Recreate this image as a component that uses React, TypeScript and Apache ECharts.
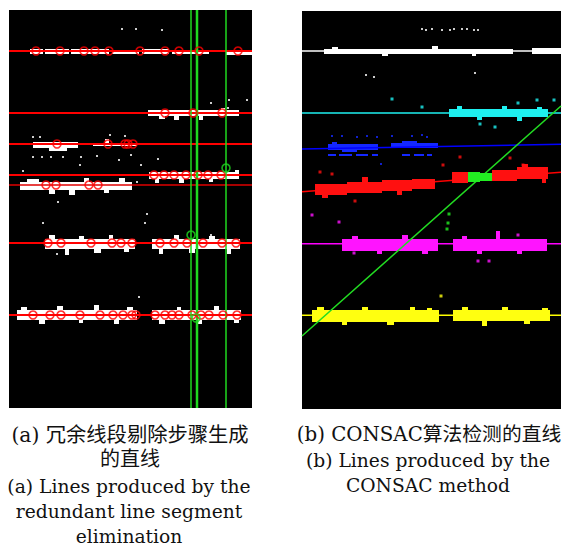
import React, { useEffect, useRef } from "react";
import * as echarts from "echarts";

// ---------- Panel (a): redundant line segment elimination (local pixel units) ----------
const aRedLines = [41, 103, 134, 165, 233, 305];
const aThinRedLine = [175];
const aGreenVLines = [182, 217];
const aGreenVThick = [188];
const aRedCircles: number[][] = [
  [27, 41], [51, 41], [75, 41], [86, 41], [100, 41], [131, 41], [156, 41], [170, 41], [190, 41], [229, 41],
  [156, 103], [184, 103], [213, 103],
  [48, 134], [99, 134], [116, 134], [119, 134], [124, 134],
  [145, 165], [155, 165], [165, 165], [177, 165], [189, 165], [199, 165], [212, 165],
  [37, 175], [47, 175], [80, 175], [89, 175],
  [39, 233], [52, 233], [82, 233], [103, 233], [112, 233], [123, 233], [151, 233], [165, 233], [178, 233], [194, 233], [213, 233], [227, 233],
  [24, 305], [41, 305], [52, 305], [71, 305], [91, 305], [104, 305], [114, 305], [123, 305], [127, 305], [146, 305], [156, 305], [163, 305], [170, 305], [183, 305], [192, 305], [200, 305], [214, 305], [228, 305],
];
const aGreenCircles: number[][] = [[217, 158], [182, 225], [187, 308]];
// white point clusters [x0, x1, yTop, yBottom]
const aWhiteBlobs: number[][] = [
  [21, 34, 39, 44], [36, 60, 39, 44], [62, 100, 39, 44], [103, 130, 40, 44], [133, 160, 39, 44], [163, 200, 40, 44],
  [217, 243, 41, 45],
  [139, 230, 100, 106], [150, 156, 106, 109], [165, 170, 106, 110], [190, 194, 106, 110], [212, 216, 98, 100],
  [24, 69, 132, 138], [40, 58, 138, 141], [84, 128, 133, 136], [96, 100, 129, 133],
  [140, 230, 162, 169], [146, 150, 169, 173], [170, 175, 169, 173], [200, 204, 169, 172], [226, 230, 160, 162],
  [11, 123, 172, 180], [18, 30, 169, 172], [40, 46, 180, 184], [60, 66, 180, 185], [75, 80, 168, 172], [95, 100, 180, 183], [110, 116, 168, 172],
  [36, 126, 229, 239], [40, 46, 225, 229], [56, 60, 239, 245], [70, 75, 226, 229], [85, 92, 239, 243], [100, 104, 225, 229], [115, 120, 239, 242],
  [143, 231, 229, 239], [150, 154, 239, 244], [165, 170, 225, 229], [180, 186, 239, 243], [200, 206, 226, 229], [218, 222, 239, 244],
  [8, 128, 300, 310], [12, 18, 297, 300], [30, 36, 310, 314], [48, 54, 296, 300], [70, 74, 310, 313], [85, 90, 295, 300], [105, 110, 310, 314], [118, 124, 297, 300],
  [143, 232, 300, 310], [150, 156, 310, 314], [168, 172, 297, 300], [188, 193, 310, 314], [205, 210, 296, 300], [225, 230, 310, 313],
];
const aWhiteDots: number[][] = [
  [113, 19], [127, 19], [153, 20], [202, 93], [220, 90], [238, 90], [219, 98],
  [24, 127], [31, 127], [101, 125], [116, 126], [24, 147], [33, 147], [42, 147], [54, 147], [72, 147],
  [88, 146], [110, 150], [122, 145], [149, 149], [71, 155], [132, 155], [14, 161], [128, 172],
  [49, 192], [138, 204], [136, 213], [34, 213], [202, 225], [130, 287], [48, 244],
];

// ---------- Panel (b): CONSAC (local pixel units) ----------
const bWhiteLine = [40, 40];
const bCyanLine = [102, 102];
const bBlueLine = [138, 133.3];
const bRedLine = [180.7, 161.3];
const bGreenLine = [325, 95];
const bMagentaLine = [232.7, 232.7];
const bYellowLine = [304.3, 304.3];
const bWhiteBlobs: number[][] = [
  [22, 211, 38, 43], [30, 36, 36, 38], [80, 86, 43, 45], [130, 136, 35, 38], [170, 174, 43, 45], [230, 259, 37, 43],
];
const bWhiteDots: number[][] = [
  [120, 18], [124, 19], [130, 18], [140, 19], [148, 19], [152, 18], [160, 18], [165, 18], [172, 19], [176, 19],
  [64, 64], [72, 66], [173, 62],
];
const bCyanBlobs: number[][] = [
  [147, 246, 98, 106], [155, 160, 95, 98], [175, 180, 106, 109], [200, 205, 95, 98], [215, 220, 106, 110], [235, 240, 96, 98],
];
const bCyanDots: number[][] = [[90, 88], [120, 96], [178, 113], [193, 116], [216, 92], [235, 89], [252, 89]];
const bBlueBlobs: number[][] = [
  [26, 76, 133, 139], [40, 55, 139, 141], [30, 35, 131, 133], [89, 136, 132, 137], [100, 115, 130, 132],
  [26, 34, 143, 145], [37, 50, 143, 145], [54, 66, 143, 145], [70, 76, 143, 145], [100, 108, 143, 145], [112, 122, 143, 145], [125, 130, 143, 145],
];
const bBlueDots: number[][] = [[30, 125], [40, 125], [55, 126], [65, 125], [75, 126], [90, 125], [110, 125], [120, 124], [125, 126], [79, 153]];
const bRedBlobs: number[][] = [
  [13, 45, 173, 184], [45, 80, 171, 182], [80, 110, 169, 180], [110, 133, 168, 178], [20, 26, 184, 187], [60, 66, 166, 171], [95, 100, 180, 184],
  [150, 166, 161, 172], [190, 215, 159, 170], [215, 246, 156, 168], [220, 226, 153, 156], [240, 244, 168, 172],
];
const bRedDots: number[][] = [[141, 154], [158, 146], [208, 147], [221, 154], [18, 161], [30, 163], [53, 190]];
const bGreenBlobs: number[][] = [[166, 178, 161, 171], [178, 190, 162, 170]];
const bGreenDots: number[][] = [[147, 203], [146, 212], [145, 218]];
const bMagentaBlobs: number[][] = [
  [40, 136, 228, 240], [50, 56, 225, 228], [75, 80, 240, 243], [100, 106, 224, 228], [120, 126, 240, 243],
  [151, 245, 228, 240], [160, 165, 225, 228], [175, 180, 240, 243], [194, 198, 220, 228], [215, 220, 240, 243],
];
const bMagentaDots: number[][] = [[10, 204], [37, 211], [52, 242], [176, 250], [187, 250], [216, 224]];
const bYellowBlobs: number[][] = [
  [10, 137, 299, 311], [15, 22, 296, 299], [40, 45, 311, 314], [60, 66, 296, 299], [85, 92, 311, 314], [108, 113, 296, 299], [125, 130, 297, 299],
  [151, 248, 299, 310], [160, 166, 296, 299], [180, 185, 310, 315], [200, 206, 296, 299], [222, 228, 310, 313], [240, 246, 297, 299],
];
const bYellowDots: number[][] = [[139, 285]];

// ---------- Captions ----------
const captionAHead = ["(a) 冗余线段剔除步骤生成", "的直线"];
const captionA = ["(a) Lines produced by the", "redundant line segment", "elimination"];
const captionBHead = ["(b) CONSAC算法检测的直线"];
const captionB = ["(b) Lines produced by the", "CONSAC method"];

const A_W = 243, A_H = 398, B_W = 259, B_H = 398;

function blobSeries(data: number[][], color: string, gi: number, z = 2) {
  return {
    type: "custom",
    xAxisIndex: gi,
    yAxisIndex: gi,
    silent: true,
    z,
    data,
    renderItem: (_p: any, api: any) => {
      const p0 = api.coord([api.value(0), api.value(2)]);
      const p1 = api.coord([api.value(1), api.value(3)]);
      return {
        type: "rect",
        shape: { x: Math.min(p0[0], p1[0]), y: Math.min(p0[1], p1[1]), width: Math.abs(p1[0] - p0[0]), height: Math.abs(p1[1] - p0[1]) },
        style: { fill: color },
      };
    },
  };
}
function dotSeries(data: number[][], color: string, gi: number, size = 2) {
  return { type: "scatter", xAxisIndex: gi, yAxisIndex: gi, silent: true, symbol: "rect", symbolSize: size, itemStyle: { color }, data, z: 2 };
}
function lineSeries(p: number[][], color: string, width: number, gi: number, z = 3) {
  return { type: "line", xAxisIndex: gi, yAxisIndex: gi, silent: true, showSymbol: false, lineStyle: { color, width }, data: p, z };
}
function circleSeries(data: number[][], color: string, gi: number) {
  return {
    type: "scatter", xAxisIndex: gi, yAxisIndex: gi, silent: true, symbol: "circle", symbolSize: 8, z: 4,
    itemStyle: { color: "rgba(0,0,0,0)", borderColor: color, borderWidth: 1.6 }, data,
  };
}

export default function App() {
  const ref = useRef<HTMLDivElement>(null);
  useEffect(() => {
    if (!ref.current) return;
    const chart = echarts.init(ref.current, undefined, { renderer: "svg" });
    const series: any[] = [];
    // panel a
    series.push(blobSeries(aWhiteBlobs, "#ffffff", 0));
    series.push(dotSeries(aWhiteDots, "#ffffff", 0));
    aRedLines.forEach((y) => series.push(lineSeries([[0, y], [A_W, y]], "#ff0000", 2, 0)));
    aThinRedLine.forEach((y) => series.push(lineSeries([[0, y], [A_W, y]], "#e00000", 1.3, 0)));
    aGreenVLines.forEach((x) => series.push(lineSeries([[x, 0], [x, A_H]], "#1fd81f", 1.5, 0)));
    aGreenVThick.forEach((x) => series.push(lineSeries([[x, 0], [x, A_H]], "#1fd81f", 2.5, 0)));
    series.push(circleSeries(aRedCircles, "#ff0000", 0));
    series.push(circleSeries(aGreenCircles, "#1fd81f", 0));
    // panel b: model lines beneath their inlier clusters
    series.push(lineSeries([[0, bWhiteLine[0]], [B_W, bWhiteLine[1]]], "#ffffff", 1.5, 1, 1));
    series.push(lineSeries([[0, bCyanLine[0]], [B_W, bCyanLine[1]]], "#1ef0f0", 1.5, 1, 1));
    series.push(lineSeries([[0, bBlueLine[0]], [B_W, bBlueLine[1]]], "#0000ff", 1.5, 1, 3));
    series.push(lineSeries([[0, bRedLine[0]], [B_W, bRedLine[1]]], "#ff0000", 1.5, 1, 1));
    series.push(lineSeries([[0, bMagentaLine[0]], [B_W, bMagentaLine[1]]], "#ff00ff", 1.5, 1, 1));
    series.push(lineSeries([[0, bYellowLine[0]], [B_W, bYellowLine[1]]], "#ffff00", 1.5, 1, 1));
    series.push(blobSeries(bWhiteBlobs, "#ffffff", 1));
    series.push(dotSeries(bWhiteDots, "#ffffff", 1));
    series.push(blobSeries(bCyanBlobs, "#1ef0f0", 1));
    series.push(dotSeries(bCyanDots, "#1ef0f0", 1, 3));
    series.push(blobSeries(bBlueBlobs, "#1428ff", 1));
    series.push(dotSeries(bBlueDots, "#1428ff", 1));
    series.push(blobSeries(bRedBlobs, "#ff1010", 1));
    series.push(dotSeries(bRedDots, "#ff1010", 1, 3));
    series.push(blobSeries(bMagentaBlobs, "#ff14ff", 1));
    series.push(dotSeries(bMagentaDots, "#ff14ff", 1, 3));
    series.push(blobSeries(bYellowBlobs, "#ffff10", 1));
    series.push(dotSeries(bYellowDots, "#ffff10", 1, 3));
    series.push(lineSeries([[0, bGreenLine[0]], [B_W, bGreenLine[1]]], "#22dd22", 1.5, 1, 4));
    series.push(blobSeries(bGreenBlobs, "#22ee22", 1, 5));
    series.push(dotSeries(bGreenDots, "#22ee22", 1, 3));

    // Latin glyphs come from DejaVu Serif; CJK glyphs fall back to Noto Sans CJK SC
    const font = "'DejaVu Serif', 'Noto Sans CJK SC', serif";
    const graphic: any[] = [];
    const txt = (x: number, y: number, t: string, size: number) => ({
      type: "text", x, y,
      style: { text: t, fontSize: size, lineHeight: 20, fontFamily: font, fill: "#111", textAlign: "center", textVerticalAlign: "middle" },
    });
    graphic.push(txt(130, 434.5, captionAHead[0], 20.3));
    graphic.push(txt(130, 459, captionAHead[1], 20));
    const aY = [486, 511, 536];
    captionA.forEach((t, i) => graphic.push(txt(129, aY[i], t, 18.7)));
    graphic.push(txt(429, 434.5, captionBHead[0], 19.8));
    const bY = [460, 485];
    captionB.forEach((t, i) => graphic.push(txt(428, bY[i], t, 18.7)));

    const axisOff = { show: false, splitLine: { show: false } };
    chart.setOption({
      animation: false,
      backgroundColor: "#ffffff",
      grid: [
        { left: 9, top: 10, width: A_W, height: A_H, show: true, backgroundColor: "#000", borderWidth: 0 },
        { left: 302, top: 11, width: B_W, height: B_H, show: true, backgroundColor: "#000", borderWidth: 0 },
      ],
      xAxis: [
        { type: "value", gridIndex: 0, min: 0, max: A_W, ...axisOff },
        { type: "value", gridIndex: 1, min: 0, max: B_W, ...axisOff },
      ],
      yAxis: [
        { type: "value", gridIndex: 0, min: 0, max: A_H, inverse: true, ...axisOff },
        { type: "value", gridIndex: 1, min: 0, max: B_H, inverse: true, ...axisOff },
      ],
      series,
      graphic,
    });
    return () => chart.dispose();
  }, []);
  return <div ref={ref} style={{ position: "absolute", left: 0, top: 0, width: 569, height: 545 }} />;
}
